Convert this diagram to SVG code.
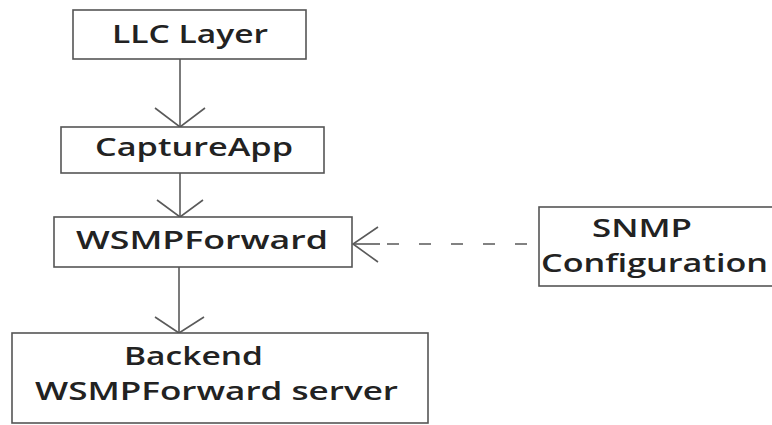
<svg xmlns="http://www.w3.org/2000/svg" width="772" height="425" viewBox="0 0 772 425">
  <style>
    .box { fill: #ffffff; stroke: #555555; stroke-width: 1.6; }
    .label { font-family: "Open Sans", "Liberation Sans", sans-serif; font-size: 25px; font-weight: 600; fill: #222222; }
    .link { fill: none; stroke: #5a5a5a; stroke-width: 1.6; }
    .dash { stroke-dasharray: 12 20; }
  </style>
  <rect width="772" height="425" fill="#ffffff"/>

  <g id="connectors">
    <!-- LLC Layer to CaptureApp -->
    <line class="link" x1="180" y1="59" x2="180" y2="127"/>
    <polyline class="link" points="155,108 180,127 205,108"/>
    <!-- CaptureApp to WSMPForward -->
    <line class="link" x1="180" y1="173" x2="180" y2="217"/>
    <polyline class="link" points="157,200 180,217 203,200"/>
    <!-- WSMPForward to backend server -->
    <line class="link" x1="179" y1="267" x2="179" y2="333"/>
    <polyline class="link" points="155,317 179,333 204,317"/>
    <!-- SNMP configuration to WSMPForward (dashed) -->
    <line class="link dash" x1="387" y1="244" x2="539" y2="244"/>
    <line class="link" x1="353" y1="244" x2="380" y2="244"/>
    <polyline class="link" points="378,227 353,244 378,262"/>
  </g>

  <g id="llc-layer">
    <rect class="box" x="73" y="10" width="233" height="49"/>
    <text class="label" x="112" y="43" textLength="156" lengthAdjust="spacingAndGlyphs">LLC Layer</text>
  </g>

  <g id="capture-app">
    <rect class="box" x="61" y="127" width="263" height="46"/>
    <text class="label" x="95" y="156" textLength="198" lengthAdjust="spacingAndGlyphs">CaptureApp</text>
  </g>

  <g id="wsmp-forward">
    <rect class="box" x="54" y="217" width="298" height="50"/>
    <text class="label" x="76" y="249" textLength="252" lengthAdjust="spacingAndGlyphs">WSMPForward</text>
  </g>

  <g id="snmp-configuration">
    <rect class="box" x="539" y="207" width="245" height="79"/>
    <text class="label" x="592" y="237" textLength="100" lengthAdjust="spacingAndGlyphs">SNMP</text>
    <text class="label" x="541" y="272" textLength="227" lengthAdjust="spacingAndGlyphs">Configuration</text>
  </g>

  <g id="backend-server">
    <rect class="box" x="12" y="333" width="416" height="90"/>
    <text class="label" x="124" y="365" textLength="139" lengthAdjust="spacingAndGlyphs">Backend</text>
    <text class="label" x="35" y="400" textLength="363" lengthAdjust="spacingAndGlyphs">WSMPForward server</text>
  </g>
</svg>
